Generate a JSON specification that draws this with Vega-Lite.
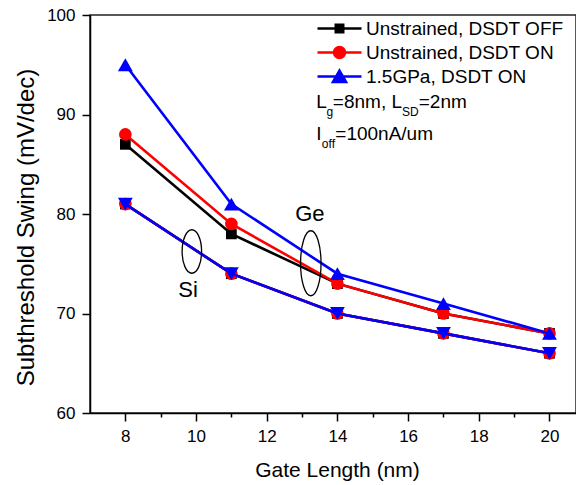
{
  "$schema": "https://vega.github.io/schema/vega-lite/v6.json",
  "autosize": {"type": "none"},
  "padding": {"left": 90, "top": 15, "right": 0, "bottom": 72},
  "width": 486,
  "height": 398,
  "background": "#ffffff",
  "config": {
    "view": {"stroke": "#222222", "strokeWidth": 1.5},
    "font": "Liberation Sans",
    "axis": {"grid": false, "domainColor": "#000000", "domainWidth": 1.5, "tickColor": "#000000", "tickWidth": 1.5, "labelColor": "#000000", "titleColor": "#000000", "labelFont": "Liberation Sans", "titleFont": "Liberation Sans", "titleFontWeight": "normal"}
  },
  "data": {
    "values": [
      {"k": "s", "series": "Unstrained, DSDT OFF", "mat": "Ge", "x": 8, "y": 87},
      {"k": "s", "series": "Unstrained, DSDT OFF", "mat": "Ge", "x": 11, "y": 78},
      {"k": "s", "series": "Unstrained, DSDT OFF", "mat": "Ge", "x": 14, "y": 73},
      {"k": "s", "series": "Unstrained, DSDT OFF", "mat": "Ge", "x": 17, "y": 70},
      {"k": "s", "series": "Unstrained, DSDT OFF", "mat": "Ge", "x": 20, "y": 68},
      {"k": "s", "series": "Unstrained, DSDT ON", "mat": "Ge", "x": 8, "y": 88},
      {"k": "s", "series": "Unstrained, DSDT ON", "mat": "Ge", "x": 11, "y": 79},
      {"k": "s", "series": "Unstrained, DSDT ON", "mat": "Ge", "x": 14, "y": 73},
      {"k": "s", "series": "Unstrained, DSDT ON", "mat": "Ge", "x": 17, "y": 70},
      {"k": "s", "series": "Unstrained, DSDT ON", "mat": "Ge", "x": 20, "y": 68},
      {"k": "s", "series": "1.5GPa, DSDT ON", "mat": "Ge", "x": 8, "y": 95},
      {"k": "s", "series": "1.5GPa, DSDT ON", "mat": "Ge", "x": 11, "y": 81},
      {"k": "s", "series": "1.5GPa, DSDT ON", "mat": "Ge", "x": 14, "y": 74},
      {"k": "s", "series": "1.5GPa, DSDT ON", "mat": "Ge", "x": 17, "y": 71},
      {"k": "s", "series": "1.5GPa, DSDT ON", "mat": "Ge", "x": 20, "y": 68},
      {"k": "s", "series": "Unstrained, DSDT OFF", "mat": "Si", "x": 8, "y": 81},
      {"k": "s", "series": "Unstrained, DSDT OFF", "mat": "Si", "x": 11, "y": 74},
      {"k": "s", "series": "Unstrained, DSDT OFF", "mat": "Si", "x": 14, "y": 70},
      {"k": "s", "series": "Unstrained, DSDT OFF", "mat": "Si", "x": 17, "y": 68},
      {"k": "s", "series": "Unstrained, DSDT OFF", "mat": "Si", "x": 20, "y": 66},
      {"k": "s", "series": "Unstrained, DSDT ON", "mat": "Si", "x": 8, "y": 81},
      {"k": "s", "series": "Unstrained, DSDT ON", "mat": "Si", "x": 11, "y": 74},
      {"k": "s", "series": "Unstrained, DSDT ON", "mat": "Si", "x": 14, "y": 70},
      {"k": "s", "series": "Unstrained, DSDT ON", "mat": "Si", "x": 17, "y": 68},
      {"k": "s", "series": "Unstrained, DSDT ON", "mat": "Si", "x": 20, "y": 66},
      {"k": "s", "series": "1.5GPa, DSDT ON", "mat": "Si", "x": 8, "y": 81},
      {"k": "s", "series": "1.5GPa, DSDT ON", "mat": "Si", "x": 11, "y": 74},
      {"k": "s", "series": "1.5GPa, DSDT ON", "mat": "Si", "x": 14, "y": 70},
      {"k": "s", "series": "1.5GPa, DSDT ON", "mat": "Si", "x": 17, "y": 68},
      {"k": "s", "series": "1.5GPa, DSDT ON", "mat": "Si", "x": 20, "y": 66},
      {"k": "ell", "mat": "Ge", "x": 13.247, "y": 75.05},
      {"k": "ell", "mat": "Si", "x": 9.882, "y": 76.23},
      {"k": "lbl", "x": 13.219, "y": 80.0, "t": "Ge"},
      {"k": "lbl", "x": 9.777, "y": 72.36, "t": "Si"},
      {"k": "main", "x": 13.403, "y": 90.653, "t": "L"},
      {"k": "sub", "x": 13.69, "y": 89.849, "t": "g"},
      {"k": "main", "x": 13.87, "y": 90.653, "t": "=8nm, L"},
      {"k": "sub", "x": 15.83, "y": 89.849, "t": "SD"},
      {"k": "main", "x": 16.3, "y": 90.653, "t": "=2nm"},
      {"k": "main", "x": 13.403, "y": 87.487, "t": "I"},
      {"k": "sub", "x": 13.56, "y": 86.633, "t": "off"},
      {"k": "main", "x": 13.94, "y": 87.487, "t": "=100nA/um"}
    ]
  },
  "encoding": {
    "x": {
      "field": "x", "type": "quantitative",
      "scale": {"domain": [7, 20.75], "nice": false, "zero": false},
      "axis": {
        "values": [8, 9, 10, 11, 12, 13, 14, 15, 16, 17, 18, 19, 20],
        "labelExpr": "datum.value % 2 == 0 ? datum.label : ''",
        "labelOverlap": false,
        "tickSize": {"condition": {"test": "datum.value % 2 == 1", "value": 4}, "value": 8},
        "labelFontSize": 17, "labelPadding": 7,
        "title": "Gate Length (nm)", "titleFontSize": 21,
        "titleX": 247, "titleY": 63, "titleAlign": "center", "titleBaseline": "alphabetic"
      }
    },
    "y": {
      "field": "y", "type": "quantitative",
      "scale": {"domain": [60, 100], "nice": false, "zero": false},
      "axis": {
        "values": [60, 70, 80, 90, 100],
        "tickSize": 8, "labelFontSize": 17, "labelPadding": 7,
        "title": "Subthreshold Swing (mV/dec)", "titleFontSize": 24,
        "titleX": -64, "titleY": 212, "titleAlign": "center", "titleBaseline": "middle", "titleAngle": -90
      }
    }
  },
  "layer": [
    {
      "transform": [{"filter": "datum.k == 's' && datum.series == 'Unstrained, DSDT OFF'"}],
      "mark": {"type": "line", "strokeWidth": 2.6},
      "encoding": {
        "detail": {"field": "mat"},
        "color": {
          "field": "series", "type": "nominal",
          "scale": {"domain": ["Unstrained, DSDT OFF", "Unstrained, DSDT ON", "1.5GPa, DSDT ON"], "range": ["#000000", "#ff0000", "#0000ff"]},
          "legend": {
            "orient": "none", "legendX": 226, "legendY": 4, "direction": "vertical", "title": null, "padding": 0,
            "symbolSize": 1936, "symbolStrokeWidth": 2.5, "clipHeight": 19, "rowPadding": 4, "labelOffset": 3,
            "labelFont": "Liberation Sans", "labelFontSize": 19, "labelColor": "#000000", "labelLimit": 400,
            "encode": {
              "symbols": {
                "update": {
                  "shape": {"signal": "datum.value === 'Unstrained, DSDT OFF' ? 'M-1,0H1M-0.17,-0.17H0.17V0.17H-0.17Z' : datum.value === 'Unstrained, DSDT ON' ? 'M-1,0H1M0.25,0A0.25,0.25 0 1,1 -0.25,0A0.25,0.25 0 1,1 0.25,0Z' : 'M-1,0H1M0,-0.27L0.3,0.25L-0.3,0.25Z'"},
                  "fill": {"signal": "datum.value === 'Unstrained, DSDT OFF' ? '#000000' : datum.value === 'Unstrained, DSDT ON' ? '#ff0000' : '#0000ff'"},
                  "stroke": {"signal": "datum.value === 'Unstrained, DSDT OFF' ? '#000000' : datum.value === 'Unstrained, DSDT ON' ? '#ff0000' : '#0000ff'"},
                  "strokeWidth": {"value": 2.5},
                  "opacity": {"value": 1}
                }
              }
            }
          }
        }
      }
    },
    {
      "transform": [{"filter": "datum.k == 's' && datum.series == 'Unstrained, DSDT OFF'"}],
      "mark": {"type": "point", "shape": "square", "size": 115, "filled": true, "color": "#000000", "opacity": 1}
    },
    {
      "transform": [{"filter": "datum.k == 's' && datum.series == 'Unstrained, DSDT ON'"}],
      "mark": {"type": "line", "strokeWidth": 2.6},
      "encoding": {"detail": {"field": "mat"}, "color": {"field": "series", "type": "nominal"}}
    },
    {
      "transform": [{"filter": "datum.k == 's' && datum.series == 'Unstrained, DSDT ON'"}],
      "mark": {"type": "point", "shape": "circle", "size": 160, "filled": true, "color": "#ff0000", "opacity": 1}
    },
    {
      "transform": [{"filter": "datum.k == 's' && datum.series == '1.5GPa, DSDT ON'"}],
      "mark": {"type": "line", "strokeWidth": 2.6},
      "encoding": {"detail": {"field": "mat"}, "color": {"field": "series", "type": "nominal"}}
    },
    {
      "transform": [{"filter": "datum.k == 's' && datum.series == '1.5GPa, DSDT ON' && datum.mat == 'Ge'"}],
      "mark": {"type": "point", "shape": "triangle-up", "size": 220, "filled": true, "color": "#0000ff", "opacity": 1}
    },
    {
      "transform": [{"filter": "datum.k == 's' && datum.series == '1.5GPa, DSDT ON' && datum.mat == 'Si'"}],
      "mark": {"type": "point", "shape": "triangle-down", "size": 220, "filled": true, "color": "#0000ff", "opacity": 1}
    },
    {
      "transform": [{"filter": "datum.k == 'ell' && datum.mat == 'Ge'"}],
      "mark": {"type": "point", "shape": "M0,-1A0.315,1 0 1,1 0,1A0.315,1 0 1,1 0,-1Z", "size": 4225, "filled": false, "color": "#000000", "strokeWidth": 1.3, "opacity": 1}
    },
    {
      "transform": [{"filter": "datum.k == 'ell' && datum.mat == 'Si'"}],
      "mark": {"type": "point", "shape": "M0,-1A0.448,1 0 1,1 0,1A0.448,1 0 1,1 0,-1Z", "size": 1892, "filled": false, "color": "#000000", "strokeWidth": 1.3, "opacity": 1}
    },
    {
      "transform": [{"filter": "datum.k == 'lbl'"}],
      "mark": {"type": "text", "font": "Liberation Sans", "fontSize": 22, "align": "center", "baseline": "middle", "color": "#000000"},
      "encoding": {"text": {"field": "t"}}
    },
    {
      "transform": [{"filter": "datum.k == 'main'"}],
      "mark": {"type": "text", "font": "Liberation Sans", "fontSize": 19, "align": "left", "baseline": "alphabetic", "color": "#000000"},
      "encoding": {"text": {"field": "t"}}
    },
    {
      "transform": [{"filter": "datum.k == 'sub'"}],
      "mark": {"type": "text", "font": "Liberation Sans", "fontSize": 12, "align": "left", "baseline": "alphabetic", "color": "#000000"},
      "encoding": {"text": {"field": "t"}}
    }
  ]
}
